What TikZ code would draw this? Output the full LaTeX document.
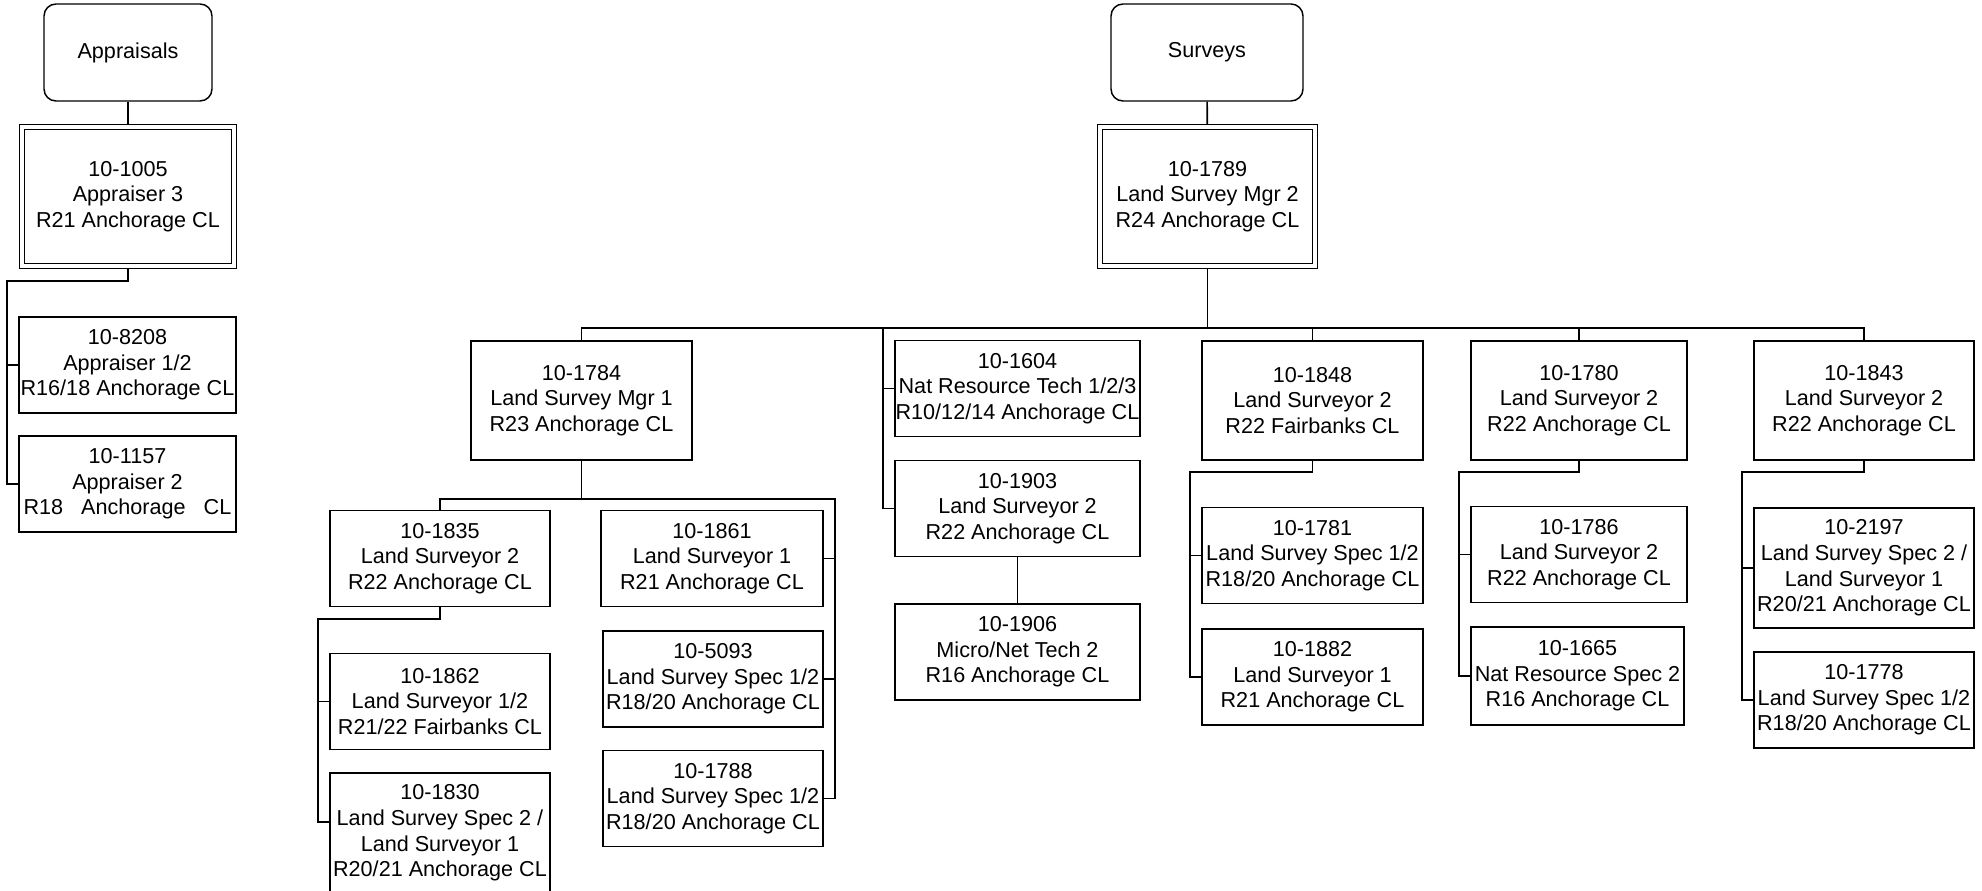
\documentclass[tikz,border=0pt]{standalone}
\usepackage{fontspec}
\setmainfont{Liberation Sans}
\usetikzlibrary{calc}
\newcommand{\px}{0.75pt}

\begin{document}
\begin{tikzpicture}[x=\px, y=-\px,
  post/.style={draw, line width=1.1pt, align=center, inner sep=0pt,
    font=\fontsize{16.2}{19.2}\selectfont, minimum width=220*\px, minimum height=96*\px},
  tall/.style={post, minimum height=119*\px},
  wide/.style={post, minimum width=245*\px},
  dept/.style={post, rounded corners=9pt, minimum height=97*\px},
  head/.style={post, line width=1pt, double, double distance=2.8pt, outer sep=2.4pt, minimum height=139*\px},
  link/.style={line width=1.2pt}]
  \clip (0,0) rectangle (1982,891);
  % Appraisals
  \node[dept, minimum width=168*\px] (appr) at (128,52.5) {Appraisals};
  \node[head, minimum width=212*\px] (a1005) at (128,196.5) {10-1005\\Appraiser 3\\R21 Anchorage CL};
  \node[post, minimum width=217*\px] (a8208) at (127.5,365) {10-8208\\Appraiser 1/2\\R16/18 Anchorage CL};
  \node[post, minimum width=217*\px] (a1157) at (127.5,484) {10-1157\\Appraiser 2\\R18\ \ \ Anchorage\ \ \ CL};
  % Surveys
  \node[dept, minimum width=192*\px] (surv) at (1207,52.5) {Surveys};
  \node[head, minimum width=215*\px] (s1789) at (1207.5,196.5) {10-1789\\Land Survey Mgr 2\\R24 Anchorage CL};
  \node[tall, minimum width=221*\px] (s1784) at (581.5,400.5) {10-1784\\Land Survey Mgr 1\\R23 Anchorage CL};
  \node[post] (s1835) at (440,558.5) {10-1835\\Land Surveyor 2\\R22 Anchorage CL};
  \node[post] (s1862) at (440,701.5) {10-1862\\Land Surveyor 1/2\\R21/22 Fairbanks CL};
  \node[tall, minimum height=120*\px] (s1830) at (440,833) {10-1830\\Land Survey Spec 2 /\\Land Surveyor 1\\R20/21 Anchorage CL};
  \node[post, minimum width=222*\px] (s1861) at (712,558.5) {10-1861\\Land Surveyor 1\\R21 Anchorage CL};
  \node[post] (s5093) at (713,679) {10-5093\\Land Survey Spec 1/2\\R18/20 Anchorage CL};
  \node[post] (s1788) at (713,798.5) {10-1788\\Land Survey Spec 1/2\\R18/20 Anchorage CL};
  \node[wide] (s1604) at (1017.5,388.5) {10-1604\\Nat Resource Tech 1/2/3\\R10/12/14 Anchorage CL};
  \node[wide] (s1903) at (1017.5,508.5) {10-1903\\Land Surveyor 2\\R22 Anchorage CL};
  \node[wide] (s1906) at (1017.5,652) {10-1906\\Micro/Net Tech 2\\R16 Anchorage CL};
  \node[tall, minimum width=221*\px] (s1848) at (1312.5,400.5) {10-1848\\Land Surveyor 2\\R22 Fairbanks CL};
  \node[post, minimum width=221*\px] (s1781) at (1312.5,555.5) {10-1781\\Land Survey Spec 1/2\\R18/20 Anchorage CL};
  \node[post, minimum width=221*\px] (s1882) at (1312.5,677) {10-1882\\Land Surveyor 1\\R21 Anchorage CL};
  \node[tall, minimum width=216*\px] (s1780) at (1579,400.5) {10-1780\\Land Surveyor 2\\R22 Anchorage CL};
  \node[post, minimum width=216*\px] (s1786) at (1579,554.5) {10-1786\\Land Surveyor 2\\R22 Anchorage CL};
  \node[post, minimum width=213*\px, minimum height=98*\px] (s1665) at (1577.5,676) {10-1665\\Nat Resource Spec 2\\R16 Anchorage CL};
  \node[tall] (s1843) at (1864,400.5) {10-1843\\Land Surveyor 2\\R22 Anchorage CL};
  \node[tall, minimum height=120*\px] (s2197) at (1864,568) {10-2197\\Land Survey Spec 2 /\\Land Surveyor 1\\R20/21 Anchorage CL};
  \node[post] (s1778) at (1864,700) {10-1778\\Land Survey Spec 1/2\\R18/20 Anchorage CL};

  % connectors, Appraisals
  \draw[link] (appr) -- (a1005);
  \coordinate (abus) at (7,281);
  \draw[link] (a1005.south) |- (abus) |- (a1157.west);
  \draw[link] (abus |- a8208.west) -- (a8208.west);
  % connectors, Surveys
  \draw[link] (surv) -- (s1789);
  \coordinate (sbus) at (1207.5,328);
  \draw[link] (s1789.south) -- (sbus);
  \draw[link] (s1784.north) |- (sbus) -| (s1843.north);
  \foreach \n in {s1848,s1780} \draw[link] (\n.north) -- (\n.north |- sbus);
  \coordinate (tbus) at (883,328);
  \draw[link] (tbus) |- (s1903.west);
  \draw[link] (tbus |- s1604.west) -- (s1604.west);
  \draw[link] (s1903) -- (s1906);
  \coordinate (mbus) at (835,499);
  \draw[link] (s1784.south) -- (s1784.south |- mbus);
  \draw[link] (s1835.north) |- (mbus) |- (s1788.east);
  \foreach \n in {s1861,s5093} \draw[link] (mbus |- \n.east) -- (\n.east);
  \coordinate (lbus) at (318,619);
  \coordinate (c1830) at ($(s1830.north west)+(0,50)$);
  \draw[link] (s1835.south) |- (lbus) |- (c1830);
  \draw[link] (lbus |- s1862.west) -- (s1862.west);
  \foreach \p/\k/\a/\b in {s1848/1190/s1781/s1882, s1780/1459/s1786/s1665, s1843/1742/s2197/s1778} {
    \coordinate (k) at (\k,472);
    \draw[link] (\p.south) |- (k) |- (\b.west);
    \draw[link] (k |- \a.west) -- (\a.west);
  }
\end{tikzpicture}
\end{document}
